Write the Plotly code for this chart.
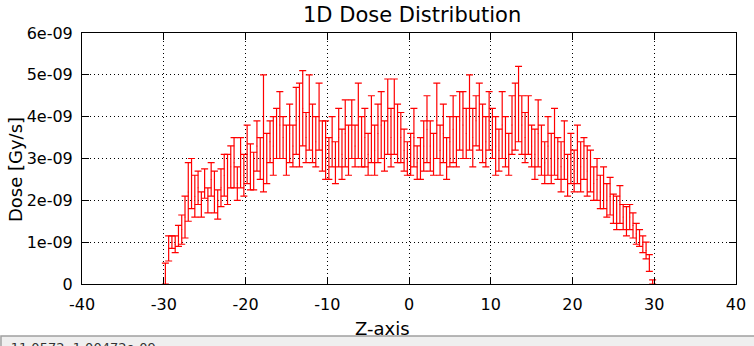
import plotly.graph_objects as go

# bin centres along Z (mm)
z_start = -29.8
z_step = 0.4
n_bins = 150
z_values = [round(z_start + z_step * i, 2) for i in range(n_bins)]

# dose values in units of 1e-9 Gy/s
dose_e9 = [
    0.25, 0.85, 1.0, 0.95, 1.15, 1.3, 1.6, 2.2, 2.4, 2.1,
    2.3, 1.9, 2.4, 2.0, 2.5, 2.2, 1.9, 2.3, 2.6, 2.5,
    2.8, 2.9, 2.4, 2.9, 2.6, 3.1, 2.8, 2.7, 3.3, 3.0,
    3.6, 3.0, 3.4, 3.3, 3.6, 3.8, 3.5, 3.2, 3.6, 3.3,
    3.9, 3.8, 4.2, 3.5, 4.1, 3.6, 3.4, 4.0, 3.3, 3.2,
    3.0, 3.4, 2.9, 3.5, 3.1, 3.6, 3.2, 3.7, 3.3, 3.9,
    3.4, 3.5, 3.1, 3.7, 3.2, 3.6, 3.8, 3.3, 4.0, 3.5,
    4.0, 3.6, 3.5, 3.2, 3.0, 3.1, 3.5, 2.9, 3.0, 3.3,
    3.7, 3.3, 3.1, 3.9, 3.2, 3.6, 3.0, 3.4, 3.7, 3.4,
    3.9, 3.8, 3.6, 4.1, 3.5, 3.9, 4.0, 3.6, 3.4, 3.9,
    3.6, 3.3, 3.2, 3.8, 3.4, 3.1, 3.8, 4.0, 4.3, 3.8,
    3.5, 3.8, 3.3, 3.1, 3.6, 3.2, 2.9, 3.3, 3.0, 3.4,
    3.0, 2.8, 3.2, 2.6, 3.0, 2.7, 3.1, 2.8, 3.0, 2.7,
    2.7, 2.4, 2.5, 2.2, 2.3, 2.0, 2.1, 1.8, 1.7, 1.9,
    1.6, 1.5, 1.6, 1.4, 1.2, 1.1, 0.95, 0.8, 0.5, 0.05,
]

# statistical errors in units of 1e-9 Gy/s
error_e9 = [
    0.25, 0.3, 0.15, 0.2, 0.25, 0.35, 0.5, 0.7, 0.6, 0.5,
    0.4, 0.3, 0.35, 0.3, 0.4, 0.5, 0.35, 0.45, 0.5, 0.6,
    0.5, 0.6, 0.4, 0.6, 0.5, 0.7, 0.55, 0.45, 0.6, 0.5,
    1.4, 0.6, 0.5, 0.7, 0.6, 0.8, 0.5, 0.6, 0.7, 0.5,
    0.8, 1.0, 0.9, 0.6, 0.9, 0.7, 0.6, 0.8, 0.6, 0.7,
    0.5, 0.6, 0.5, 0.7, 0.6, 0.8, 0.6, 0.7, 0.5, 0.9,
    0.6, 0.7, 0.5, 0.8, 0.6, 0.7, 0.8, 0.6, 0.9, 0.7,
    0.9, 0.7, 0.6, 0.5, 0.4, 0.5, 0.7, 0.4, 0.5, 0.6,
    0.8, 0.6, 0.5, 0.9, 0.6, 0.7, 0.5, 0.6, 0.8, 0.6,
    0.7, 0.8, 0.6, 0.9, 0.7, 0.6, 0.8, 0.7, 0.6, 0.7,
    0.6, 0.7, 0.5, 0.8, 0.6, 0.5, 0.7, 0.8, 0.9, 0.7,
    0.6, 0.7, 0.5, 0.6, 0.8, 0.6, 0.5, 0.7, 0.6, 0.8,
    0.5, 0.6, 0.7, 0.5, 0.6, 0.5, 0.7, 0.6, 0.5, 0.6,
    0.5, 0.4, 0.5, 0.4, 0.5, 0.4, 0.45, 0.35, 0.4, 0.45,
    0.3, 0.35, 0.3, 0.3, 0.25, 0.2, 0.2, 0.2, 0.2, 0.05,
]

x_ticks = [-40, -30, -20, -10, 0, 10, 20, 30, 40]
x_tick_labels = ["-40", "-30", "-20", "-10", "0", "10", "20", "30", "40"]
y_ticks = [0, 1e-9, 2e-9, 3e-9, 4e-9, 5e-9, 6e-9]
y_tick_labels = ["0", "1e-09", "2e-09", "3e-09", "4e-09", "5e-09", "6e-09"]

dose = [v * 1e-9 for v in dose_e9]
err = [v * 1e-9 for v in error_e9]

FONT = "DejaVu Sans"

fig = go.Figure()
fig.add_trace(go.Scatter(
    x=z_values, y=dose, mode="markers",
    marker=dict(size=1, color="red"),
    error_y=dict(type="data", array=err, visible=True, color="red",
                 thickness=1.2, width=3.5),
    showlegend=False,
))

axis_common = dict(
    showline=True, linecolor="black", linewidth=1, mirror="ticks",
    ticks="inside", ticklen=7, tickcolor="black", tickwidth=1,
    showgrid=True, gridcolor="black", gridwidth=1, griddash="1px,3px",
    zeroline=False, automargin=False,
    tickfont=dict(family=FONT, size=16, color="black"),
)

fig.update_layout(
    template="none",
    width=754, height=346,
    margin=dict(l=82, r=18, t=33, b=62, pad=0),
    paper_bgcolor="white", plot_bgcolor="white",
    xaxis=dict(range=[-40, 40], tickvals=x_ticks, ticktext=x_tick_labels,
               ticklabelstandoff=6, **axis_common),
    yaxis=dict(range=[0, 6e-9], tickvals=y_ticks, ticktext=y_tick_labels,
               ticklabelstandoff=5, **axis_common),
    annotations=[
        dict(text="1D Dose Distribution", xref="paper", yref="paper",
             x=0.504, y=1.0, yshift=18, xanchor="center", yanchor="middle",
             showarrow=False, font=dict(family=FONT, size=21, color="black")),
        dict(text="Z-axis", xref="paper", yref="paper",
             x=0.46, y=0, yshift=-44, xanchor="center", yanchor="middle",
             showarrow=False, font=dict(family=FONT, size=18, color="black")),
        dict(text="Dose [Gy/s]", xref="paper", yref="paper",
             x=0, xshift=-67, y=0.454, xanchor="center", yanchor="middle",
             textangle=-90, showarrow=False,
             font=dict(family=FONT, size=18, color="black")),
        dict(text="-11.0572, 1.00472e-09", xref="paper", yref="paper",
             x=0, xshift=-78, y=0, yshift=-54, xanchor="left", yanchor="top",
             showarrow=False, font=dict(family=FONT, size=13, color="#333333")),
    ],
    shapes=[
        dict(type="rect", xref="paper", yref="paper",
             x0=-0.1239, x1=1.03, y0=-0.207, y1=-0.30,
             fillcolor="#efefef", line=dict(color="#a0a0a0", width=1.5),
             layer="below"),
    ],
)

fig.write_html("out.html")
